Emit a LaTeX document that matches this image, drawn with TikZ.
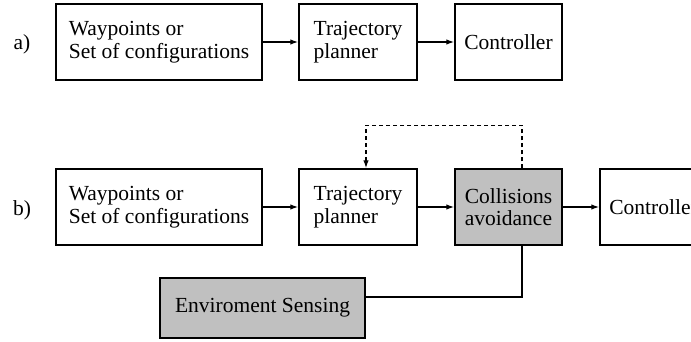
\documentclass[tikz,border=0pt]{standalone}
\usepackage{fontspec}
\setmainfont{Liberation Serif}
\usetikzlibrary{arrows.meta,positioning}
\definecolor{blockgray}{RGB}{192,192,192}

\begin{document}
\begin{tikzpicture}[x=1pt, y=-1pt,
  font=\fontsize{21.5}{22.5}\selectfont,
  block/.style={draw, line width=1.5pt, minimum height=76pt,
                align=left, inner sep=0pt},
  shaded/.style={block, fill=blockgray},
  every edge/.style={draw, line width=1.3pt, -{Latex[length=8pt,width=5.5pt]}},
  feedback/.style={line width=1.3pt, dash pattern=on 4pt off 3pt,
                   -{Latex[length=8pt,width=5.5pt]}},
  tag/.style={inner sep=0pt}
]
  \clip (0,0) rectangle (691,341);

  % a) plain chain
  \node[tag]   (la)  at (22,44)  {a)};
  \node[block, minimum width=206pt] (WPa) at (159,42)   {Waypoints or\\Set of configurations};
  \node[block, minimum width=118pt] (TPa) at (358,42)   {Trajectory\\planner};
  \node[block, minimum width=107pt] (COa) at (508.5,42) {Controller};

  \draw (WPa) edge (TPa);
  \draw (TPa) edge (COa);

  % b) with collision avoidance
  \node[tag]   (lb)  at (22,210) {b)};
  \node[block, minimum width=206pt]  (WPb) at (159,207)   {Waypoints or\\Set of configurations};
  \node[block, minimum width=118pt]  (TPb) at (358,207)   {Trajectory\\planner};
  \node[shaded, minimum width=107pt] (CA)  at (508.5,207) {Collisions\\avoidance};
  \node[block, minimum width=107pt]  (COb) at (653.5,207) {Controller};
  \node[shaded, minimum width=205pt, minimum height=60pt] (ES) at (262.5,308) {Enviroment Sensing};

  \draw (WPb) edge (TPb);
  \draw (TPb) edge (CA);
  \draw (CA)  edge (COb);

  \draw[line width=1.3pt] ([xshift=13.5pt]CA.south) |- ([yshift=11pt]ES.east);
  \draw[feedback] ([xshift=13.5pt]CA.north) -- ++(0,-43) -| ([xshift=8pt]TPb.north);
\end{tikzpicture}
\end{document}
